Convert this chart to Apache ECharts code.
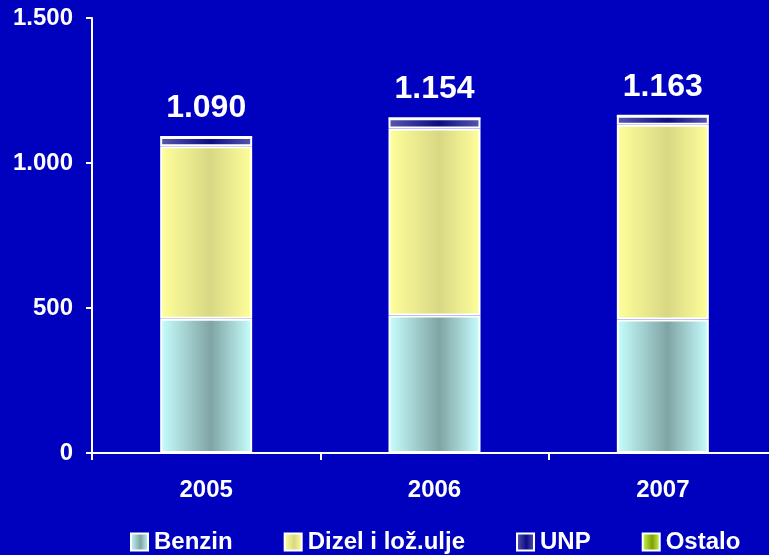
<!DOCTYPE html>
<html>
<head>
<meta charset="utf-8">
<script src="https://cdn.jsdelivr.net/npm/echarts@6/dist/echarts.min.js"></script>
<style>
html,body{margin:0;padding:0;background:#0000BF;}
#chart{width:769px;height:555px;}
</style>
</head>
<body>
<div id="chart"></div>
<script>
var categories = ['2005', '2006', '2007'];
var benzin = [463, 474, 460];
var dizel = [595, 645, 672];
var unp = [32, 35, 31];
var ostalo = [0, 0, 0];
var totals = [1090, 1154, 1163];
var yTicks = [0, 500, 1000, 1500];

function grad(edge, mid) {
  return new echarts.graphic.LinearGradient(0, 0, 1, 0, [
    {offset: 0, color: edge},
    {offset: 0.55, color: mid},
    {offset: 1, color: edge}
  ]);
}
function fmt(v) {
  var s = String(v);
  return s.length > 3 ? s.slice(0, s.length - 3) + '.' + s.slice(s.length - 3) : s;
}

var font = 'Liberation Sans';
var chart = echarts.init(document.getElementById('chart'), null, {renderer: 'canvas'});
var itemBase = {borderColor: '#FFFFFF', borderWidth: 2};

chart.setOption({
  backgroundColor: '#0000BF',
  animation: false,
  grid: {left: 92, width: 685, top: 18, height: 435, outerBoundsMode: 'none', containLabel: false},
  legend: {
    data: ['Benzin', 'Dizel i lož.ulje', 'UNP', 'Ostalo'],
    left: 125, top: 525,
    icon: 'rect',
    itemWidth: 17, itemHeight: 17, itemGap: 51,
    textStyle: {color: '#FFFFFF', fontFamily: font, fontWeight: 'bold', fontSize: 24, padding: [0, 0, 0, 1]}
  },
  xAxis: {
    type: 'category',
    data: categories,
    axisLine: {lineStyle: {color: '#FFFFFF', width: 2}},
    axisTick: {show: true, lineStyle: {color: '#FFFFFF', width: 2}, length: 7},
    axisLabel: {color: '#FFFFFF', fontFamily: font, fontWeight: 'bold', fontSize: 24, margin: 25}
  },
  yAxis: {
    type: 'value',
    min: yTicks[0], max: yTicks[yTicks.length - 1], interval: yTicks[1] - yTicks[0],
    splitLine: {show: false},
    axisLine: {show: true, lineStyle: {color: '#FFFFFF', width: 2}},
    axisTick: {show: true, lineStyle: {color: '#FFFFFF', width: 2}, length: 6},
    axisLabel: {color: '#FFFFFF', fontFamily: font, fontWeight: 'bold', fontSize: 24, margin: 19,
      formatter: function (v) { return fmt(v); }}
  },
  series: [
    {name: 'Benzin', type: 'bar', stack: 'a', barWidth: 92, data: benzin,
     itemStyle: Object.assign({color: grad('#C8FFFF', '#80A4A4')}, itemBase)},
    {name: 'Dizel i lož.ulje', type: 'bar', stack: 'a', data: dizel,
     itemStyle: Object.assign({color: grad('#FFFF9C', '#D8D884')}, itemBase)},
    {name: 'UNP', type: 'bar', stack: 'a', data: unp,
     itemStyle: Object.assign({color: grad('#5858B0', '#0C0C84')}, itemBase)},
    {name: 'Ostalo', type: 'bar', stack: 'a', data: ostalo,
     itemStyle: Object.assign({color: grad('#CCFF66', '#80A000')}, itemBase),
     label: {show: true, position: 'top', distance: 12, color: '#FFFFFF',
       fontFamily: font, fontWeight: 'bold', fontSize: 32,
       formatter: function (p) { return fmt(totals[p.dataIndex]); }}}
  ]
});
</script>
</body>
</html>
